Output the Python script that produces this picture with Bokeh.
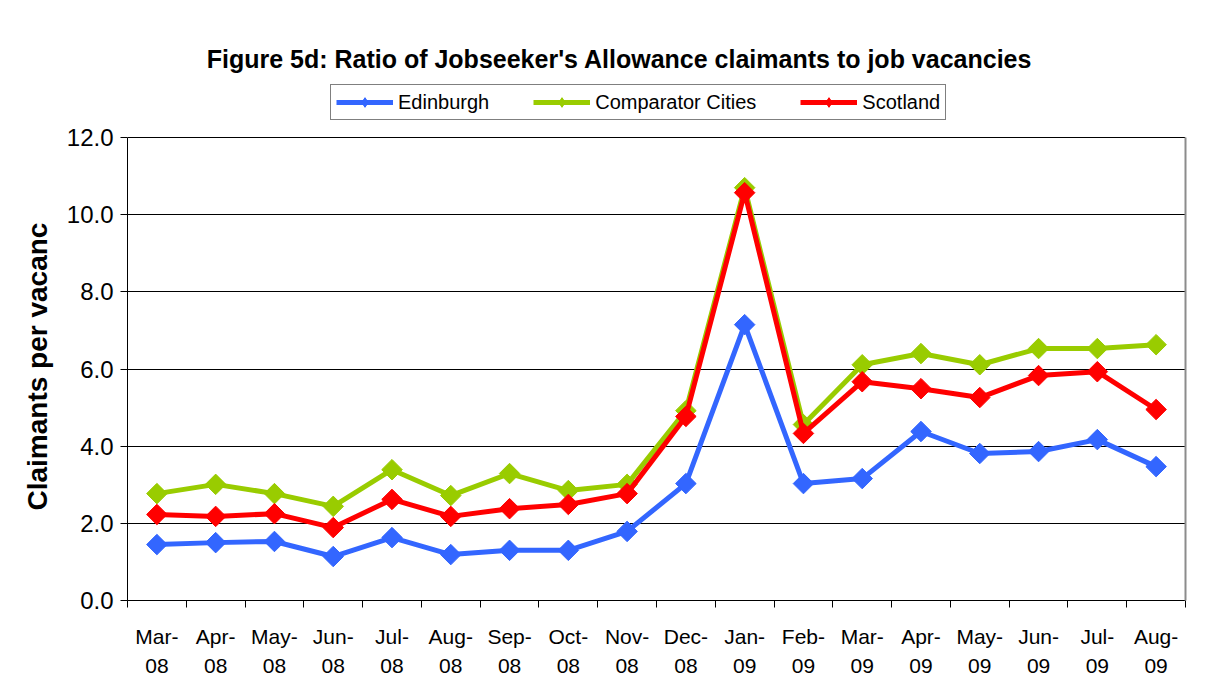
import numpy as np
from bokeh.plotting import figure
from bokeh.models import (Range1d, FixedTicker, NumeralTickFormatter, Legend, LegendItem,
                          Label, LinearAxis, Title)
from bokeh.embed import file_html
from bokeh.resources import INLINE

months = ["Mar-\n08", "Apr-\n08", "May-\n08", "Jun-\n08", "Jul-\n08", "Aug-\n08", "Sep-\n08",
          "Oct-\n08", "Nov-\n08", "Dec-\n08", "Jan-\n09", "Feb-\n09", "Mar-\n09", "Apr-\n09",
          "May-\n09", "Jun-\n09", "Jul-\n09", "Aug-\n09"]
edinburgh = [1.45, 1.50, 1.53, 1.14, 1.63, 1.19, 1.30, 1.30, 1.79, 3.03, 7.15, 3.03, 3.16, 4.38, 3.81, 3.86, 4.17, 3.47]
comparator = [2.77, 3.01, 2.77, 2.44, 3.39, 2.72, 3.29, 2.85, 3.01, 4.92, 10.70, 4.56, 6.11, 6.40, 6.11, 6.53, 6.53, 6.63]
scotland = [2.23, 2.18, 2.25, 1.89, 2.62, 2.18, 2.38, 2.49, 2.77, 4.77, 10.57, 4.33, 5.67, 5.49, 5.26, 5.83, 5.93, 4.95]
y_ticks = [0, 2, 4, 6, 8, 10, 12]

FONT = "Liberation Sans"
n = len(months)
xs = list(range(n))

# plot area: axis 0..12 occupies 463px; frame extends to figure top (600px) to host title & legend
FRAME_H = 600
AXIS_H = 463
y_end = y_ticks[-1] * FRAME_H / AXIS_H

p = figure(width=1210, height=690, output_backend="svg", toolbar_location=None,
           x_range=Range1d(-0.5, n - 0.5), y_range=Range1d(0, y_end),
           min_border_left=127, min_border_right=25, min_border_top=0, min_border_bottom=90)
p.title = None
p.above = []

# axes
p.xaxis.ticker = FixedTicker(ticks=xs, minor_ticks=[i - 0.5 for i in range(n + 1)])
p.xaxis.major_label_overrides = {i: m for i, m in enumerate(months)}
p.xaxis.major_tick_line_color = None
p.xaxis.major_tick_out = 7
p.xaxis.major_tick_in = 0
p.xaxis.minor_tick_out = 7
p.xaxis.minor_tick_in = 0
p.xaxis.minor_tick_line_color = "black"
p.xaxis.major_label_standoff = 17
p.xaxis.major_label_text_font = FONT
p.xaxis.major_label_text_font_size = "21px"
p.xaxis.major_label_text_line_height = 1.3
p.xaxis.major_label_text_color = "black"
p.xaxis.axis_line_color = "black"

p.yaxis.ticker = FixedTicker(ticks=y_ticks)
p.yaxis.bounds = (y_ticks[0], y_ticks[-1])
p.yaxis.formatter = NumeralTickFormatter(format="0.0")
p.yaxis.major_tick_out = 7
p.yaxis.major_tick_in = 0
p.yaxis.minor_tick_line_color = None
p.yaxis.major_label_standoff = 7
p.yaxis.major_label_text_font = FONT
p.yaxis.major_label_text_font_size = "24px"
p.yaxis.major_label_text_color = "black"
p.yaxis.axis_line_color = "black"

ylab = Title(text="Claimants per vacanc", align="left", offset=90, standoff=22,
             text_font=FONT, text_font_style="bold", text_font_size="28px",
             text_color="black")
p.add_layout(ylab, "left")

right = LinearAxis(bounds=(y_ticks[0], y_ticks[-1]), ticker=FixedTicker(ticks=[]),
                   axis_line_color="#8c8c8c", axis_line_width=2,
                   major_tick_line_color=None, minor_tick_line_color=None,
                   major_label_text_font_size="0px")
p.add_layout(right, "right")

p.xgrid.grid_line_color = None
p.ygrid.grid_line_color = "black"
p.ygrid.grid_line_width = 1
p.outline_line_color = None

series = [("Edinburgh", edinburgh, "#3366FF"),
          ("Comparator Cities", comparator, "#99CC00"),
          ("Scotland", scotland, "#FF0000")]
items = []
for name, vals, col in series:
    l = p.line(xs, vals, line_color=col, line_width=5)
    # small diamond used as legend key (hidden beneath the larger plot markers)
    key = p.scatter(xs, vals, marker="diamond", size=13, fill_color=col, line_color=col)
    p.scatter(xs, vals, marker="square", size=14.5, angle=np.pi / 4,
              fill_color=col, line_color=col)
    items.append(LegendItem(label=name, renderers=[l, key]))

legend = Legend(items=items, orientation="horizontal", location=(203, 480),
                border_line_color="black", border_line_width=1,
                padding=5, margin=0, spacing=44, label_standoff=5,
                glyph_width=57, glyph_height=24,
                label_text_font=FONT, label_text_font_size="20px",
                label_text_color="black", background_fill_alpha=1)
p.add_layout(legend, "center")

title = Label(x=492, y=542, x_units="screen", y_units="screen",
              text="Figure 5d: Ratio of Jobseeker's Allowance claimants to job vacancies",
              text_font=FONT, text_font_style="bold", text_font_size="25px",
              text_align="center", text_baseline="middle", text_color="black")
p.add_layout(title)

open("out.html", "w").write(file_html(p, INLINE))
